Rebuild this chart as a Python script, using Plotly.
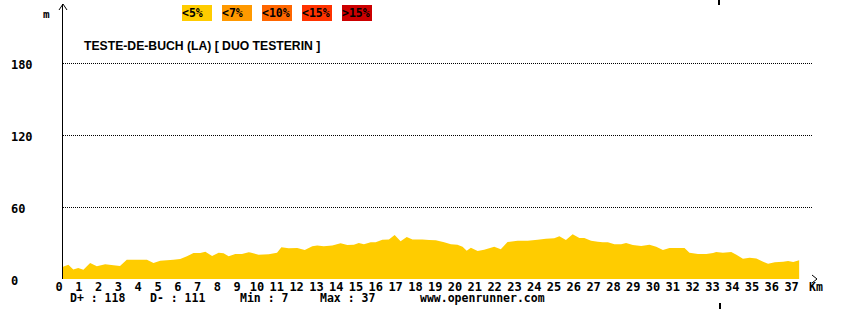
import plotly.graph_objects as go

# ---- data ----
distance_km = [0.0, 0.27, 0.52, 0.77, 1.03, 1.37, 1.71, 2.13, 2.55, 2.88, 3.22, 4.24, 4.57, 4.91,
               5.58, 5.92, 6.26, 6.59, 6.93, 7.19, 7.53, 7.86, 8.11, 8.37, 8.70, 9.04, 9.38, 9.46,
               9.88, 10.39, 10.81, 11.03, 11.40, 11.83, 12.21, 12.59, 12.84, 13.17, 13.60, 14.02,
               14.36, 14.69, 14.94, 15.20, 15.54, 15.79, 16.13, 16.46, 16.75, 17.05, 17.36, 17.65,
               18.15, 18.49, 18.83, 19.25, 19.59, 19.92, 20.18, 20.39, 20.60, 20.94, 21.27, 21.78,
               22.11, 22.45, 22.96, 23.47, 23.97, 24.39, 24.81, 25.07, 25.40, 25.74, 26.08, 26.33,
               26.67, 27.01, 27.26, 27.52, 27.85, 28.19, 28.44, 28.78, 29.20, 29.62, 29.96, 30.30,
               30.63, 31.06, 31.39, 31.64, 32.07, 32.49, 32.83, 32.99, 33.33, 33.75, 34.01, 34.34,
               34.68, 35.02, 35.36, 35.61, 35.95, 36.37, 36.62, 36.88, 37.18]
elevation_m = [10.3, 11.9, 8.0, 9.2, 7.8, 13.3, 10.6, 12.2, 11.4, 10.8, 16.1, 16.1, 13.3, 15.3,
               16.1, 16.7, 18.9, 21.7, 21.7, 22.8, 19.2, 21.9, 21.4, 18.9, 20.8, 20.8, 22.2, 22.0,
               20.3, 20.6, 21.9, 26.4, 25.6, 25.8, 24.2, 27.2, 28.0, 27.2, 28.0, 29.7,
               28.3, 28.6, 30.0, 28.9, 30.6, 30.6, 32.8, 32.9, 36.7, 31.4, 35.0, 33.0,
               33.0, 32.5, 32.2, 30.6, 28.9, 28.6, 26.9, 23.6, 26.1, 23.3, 24.4, 26.9,
               24.7, 30.8, 31.9, 31.9, 32.8, 33.6, 33.9, 35.6, 32.5, 37.2, 34.2, 34.2,
               31.9, 31.1, 30.6, 30.6, 28.9, 28.9, 30.0, 28.3, 27.5, 28.6, 26.9, 24.2,
               25.8, 25.8, 25.8, 21.9, 20.8, 20.8, 21.7, 22.5, 21.9, 22.5, 20.3, 16.9,
               17.8, 17.0, 14.4, 12.8, 13.9, 14.4, 15.0, 14.2, 15.6]

km_ticks = list(range(0, 38))
km_tick_labels = [str(k) for k in km_ticks]
elev_ticks = [0, 60, 120, 180]
elev_tick_labels = ["0\u00a0\u00a0", "60\u00a0", "120", "180"]

title_text = "TESTE-DE-BUCH (LA) [ DUO TESTERIN ]"
slope_labels = ["&lt;5%", "&lt;7%", "&lt;10%", "&lt;15%", "&gt;15%"]
slope_colors = ["#FFCC00", "#FF9900", "#FF6600", "#FF3300", "#CC0000"]
stats_labels = ["D+ : 118", "D- : 111", "Min : 7", "Max : 37", "www.openrunner.com"]

# ---- layout geometry (pixels) ----
W, H = 857, 309
L, R, T, B = 63, 44, 4, 30
PW, PH = W - L - R, H - T - B


def px(x):
    return (x - L) / PW


def py(y):
    return (H - B - y) / PH


MONO = "DejaVu Sans Mono"
FS = 12
fig = go.Figure()
fig.add_trace(go.Scatter(x=distance_km, y=elevation_m, fill="tozeroy", mode="none",
                         fillcolor="#FFCC00", hoverinfo="skip", showlegend=False))

fig.update_xaxes(range=[0, PW / 19.8], tickvals=km_ticks, ticktext=km_tick_labels,
                 showgrid=False, zeroline=False, showline=False, ticks="",
                 tickfont=dict(family=MONO, size=FS, color="black", weight="bold"),
                 ticklabelshift=-4, ticklabelstandoff=-1, fixedrange=True)
fig.update_yaxes(range=[0, PH / 1.2], tickvals=elev_ticks, ticktext=elev_tick_labels,
                 showgrid=True, gridcolor="#000000", gridwidth=1, griddash="1px,1px",
                 zeroline=False, showline=True, linecolor="black", linewidth=1, ticks="",
                 tickfont=dict(family=MONO, size=FS, color="black", weight="bold"),
                 ticklabelstandoff=27, ticklabelshift=2, fixedrange=True)

annotations = []
annotations.append(dict(x=px(82), y=py(46), xref="paper", yref="paper", text=title_text,
                        showarrow=False, xanchor="left", yanchor="middle",
                        font=dict(family="Liberation Sans", size=12.2, color="black", weight="bold")))
for i, (lab, col) in enumerate(zip(slope_labels, slope_colors)):
    x0 = 182 + 40 * i
    annotations.append(dict(x=px(x0), y=py(5), xref="paper", yref="paper", text=lab,
                            showarrow=False, xanchor="left", yanchor="top", align="left",
                            width=30, height=16, bgcolor=col, borderpad=0, borderwidth=0,
                            font=dict(family=MONO, size=11.5, color="black", weight="bold")))
stats_x = [68, 148, 238, 318, 418]
for lab, sx in zip(stats_labels, stats_x):
    annotations.append(dict(x=px(sx), y=py(297.5), xref="paper", yref="paper", text=lab,
                            showarrow=False, xanchor="left", yanchor="middle",
                            font=dict(family=MONO, size=11.5, color="black", weight="bold")))
annotations.append(dict(x=px(807), y=py(287), xref="paper", yref="paper", text="Km",
                        showarrow=False, xanchor="left", yanchor="middle",
                        font=dict(family=MONO, size=11.5, color="black", weight="bold")))
annotations.append(dict(x=px(46), y=py(14), xref="paper", yref="paper", text="m",
                        showarrow=False, xanchor="center", yanchor="middle",
                        font=dict(family=MONO, size=11, color="black", weight="bold")))

shapes = []
# y-axis arrow head
shapes.append(dict(type="path", xref="paper", yref="paper", line=dict(color="black", width=1),
                   path=f"M {px(59)},{py(10)} L {px(63)},{py(4)} L {px(67)},{py(10)}"))
# x-axis arrow head
shapes.append(dict(type="path", xref="paper", yref="paper", line=dict(color="black", width=1),
                   path=f"M {px(812)},{py(275)} L {px(817)},{py(279)} L {px(812)},{py(283)}"))
# small marker ticks at top and bottom
shapes.append(dict(type="line", xref="paper", yref="paper", x0=px(719), x1=px(719),
                   y0=py(0), y1=py(5), line=dict(color="black", width=2)))
shapes.append(dict(type="line", xref="paper", yref="paper", x0=px(720), x1=px(720),
                   y0=py(303), y1=py(309), line=dict(color="black", width=2)))

fig.update_layout(width=W, height=H, margin=dict(l=L, r=R, t=T, b=B, pad=0),
                  paper_bgcolor="white", plot_bgcolor="white",
                  annotations=annotations, shapes=shapes, showlegend=False)

fig.write_html("out.html", config={"displayModeBar": False})
